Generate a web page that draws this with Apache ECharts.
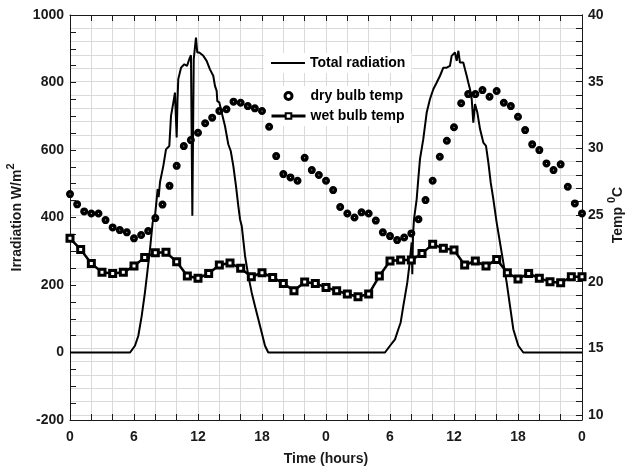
<!DOCTYPE html>
<html>
<head>
<meta charset="utf-8">
<script src="https://cdn.jsdelivr.net/npm/echarts@6/dist/echarts.min.js"></script>
<style>html,body{margin:0;padding:0;background:#fff}#c{width:628px;height:467px}</style>
</head>
<body>
<div id="c"></div>
<script>
// ---- data (hours, W/m2, degC) ----
const radTime = [0, 5.63, 6.09, 6.40, 6.72, 7.03, 7.25, 7.50, 7.75, 7.97, 8.22, 8.31, 8.44, 8.75, 9.00, 9.31, 9.47, 9.69, 9.84, 10.00, 10.08, 10.15, 10.41, 10.72, 10.97, 11.18, 11.34, 11.47, 11.60, 11.81, 11.93, 12.12, 12.50, 12.81, 13.12, 13.43, 13.59, 13.75, 13.81, 14.00, 14.22, 14.53, 14.84, 15.07, 15.31, 15.56, 15.78, 15.94, 16.10, 16.41, 16.72, 17.03, 17.34, 17.65, 17.97, 18.28, 18.59,
  29.53, 30.00, 30.47, 30.78, 31.00, 31.25, 31.41, 31.62, 31.81, 32.03, 32.09, 32.16, 32.25, 32.50, 32.65, 32.81, 33.12, 33.44, 33.75, 34.06, 34.38, 34.69, 35.00, 35.31, 35.62, 35.78, 35.94, 36.09, 36.25, 36.41, 36.56, 36.72, 36.87, 37.03, 37.19, 37.34, 37.50, 37.66, 37.81, 37.97, 38.19, 38.44, 38.75, 39.00, 39.22, 39.44, 39.69, 40.00, 40.31, 40.62, 40.94, 41.25, 41.56, 42.03, 42.50, 48];
const radValue = [0, 0, 20, 49, 108, 179, 238, 306, 386, 405, 484, 460, 505, 553, 602, 612, 701, 741, 770, 637, 750, 810, 844, 854, 849, 869, 881, 405, 869, 933, 889, 889, 879, 864, 839, 820, 790, 775, 745, 741, 711, 671, 617, 597, 553, 494, 434, 395, 375, 286, 227, 178, 138, 99, 59, 20, 0,
  0, 20, 39, 69, 89, 138, 168, 207, 257, 326, 232, 350, 395, 454, 513, 573, 632, 711, 751, 780, 800, 820, 844, 844, 849, 879, 884, 889, 864, 894, 859, 864, 859, 839, 820, 800, 780, 751, 681, 736, 711, 662, 622, 612, 563, 504, 454, 385, 326, 267, 207, 138, 69, 20, 0, 0];

const dryTime = [0, 0.67, 1.33, 2, 2.67, 3.33, 4, 4.67, 5.33, 6, 6.67, 7.33, 8, 8.67, 9.33, 10, 10.67, 11.33, 12, 12.67, 13.33, 14, 14.67, 15.33, 16, 16.67, 17.33, 18, 18.67, 19.33, 20, 20.67, 21.33, 22, 22.67, 23.33, 24, 24.67, 25.33, 26, 26.67, 27.33, 28, 28.67, 29.33, 30, 30.67, 31.33, 32, 32.67, 33.33, 34, 34.67, 35.33, 36, 36.67, 37.33, 38, 38.67, 39.33, 40, 40.67, 41.33, 42, 42.67, 43.33, 44, 44.67, 45.33, 46, 46.67, 47.33, 48];
const dryTemp = [26.57, 25.8, 25.27, 25.11, 25.11, 24.62, 24.07, 23.87, 23.7, 23.25, 23.5, 23.8, 24.77, 25.78, 27.19, 28.69, 30.17, 30.62, 31.17, 31.88, 32.3, 32.8, 32.93, 33.5, 33.42, 33.17, 33.0, 32.8, 31.62, 29.42, 28.07, 27.82, 27.57, 29.29, 28.37, 28.0, 27.57, 26.87, 25.6, 25.11, 24.81, 25.2, 25.11, 24.58, 23.7, 23.42, 23.12, 23.31, 23.62, 24.68, 26.12, 27.57, 29.37, 30.57, 31.58, 33.38, 34.07, 34.07, 34.37, 33.87, 34.3, 33.42, 33.17, 32.37, 31.37, 30.3, 29.87, 28.87, 28.37, 28.8, 27.12, 25.87, 25.12];

const wetTime = [0, 1, 2, 3, 4, 5, 6, 7, 8, 9, 10, 11, 12, 13, 14, 15, 16, 17, 18, 19, 20, 21, 22, 23, 24, 25, 26, 27, 28, 29, 30, 31, 32, 33, 34, 35, 36, 37, 38, 39, 40, 41, 42, 43, 44, 45, 46, 47, 48];
const wetTemp = [23.25, 22.42, 21.37, 20.70, 20.62, 20.70, 21.17, 21.82, 22.17, 22.2, 21.49, 20.42, 20.25, 20.62, 21.25, 21.4, 21.0, 20.37, 20.67, 20.32, 19.87, 19.32, 19.97, 19.87, 19.57, 19.32, 19.07, 18.87, 19.07, 20.42, 21.55, 21.62, 21.62, 22.12, 22.8, 22.5, 22.37, 21.25, 21.55, 21.17, 21.67, 20.67, 20.2, 20.62, 20.25, 20.0, 19.92, 20.37, 20.37];

const seriesNames = ['Total radiation', 'dry bulb temp', 'wet bulb temp'];

const zip = (a, b) => a.map((t, i) => [t, b[i]]);
const INK = '#1a1a1a';
const GRIDC = '#dadada';
const FONT = '"Liberation Sans", Arial, sans-serif';
const lbl = () => ({ color: INK, fontFamily: FONT, fontWeight: 'bold', fontSize: 14 });
const tick = () => ({ show: true, inside: true, length: 6, lineStyle: { color: INK, width: 1 } });
const axLine = () => ({ show: true, onZero: false, lineStyle: { color: INK, width: 1 } });
const gl = () => ({ show: true, lineStyle: { color: GRIDC, width: 1 } });
const near = (v, m) => Math.abs(v / m - Math.round(v / m)) < 1e-6;
const richName = () => ({ rich: {
  a: { fontFamily: FONT, fontWeight: 'bold', fontSize: 14, color: INK, padding: [5, 0, 0, 0] },
  s: { fontFamily: FONT, fontWeight: 'bold', fontSize: 11, color: INK, verticalAlign: 'top' } } });
const legText = () => ({ color: '#000', fontFamily: FONT, fontWeight: 'bold', fontSize: 14 });
const hideSym = { color: 'rgba(0,0,0,0)', borderColor: 'rgba(0,0,0,0)', borderWidth: 0 };

const chart = echarts.init(document.getElementById('c'));
chart.setOption({
  animation: false,
  backgroundColor: '#fff',
  grid: [
    { left: 70, right: 46, top: 15, bottom: 47, containLabel: false, outerBoundsMode: 'none' },
    { left: 70, right: 46, top: 15, bottom: 52, containLabel: false, outerBoundsMode: 'none' }
  ],
  xAxis: [
    { gridIndex: 0, type: 'value', min: 0, max: 48, interval: 2, position: 'bottom',
      axisLine: axLine(), axisTick: tick(),
      axisLabel: Object.assign({ margin: 10, formatter: v => near(v, 6) ? String(Math.round(v) % 24) : '' }, lbl()),
      splitLine: gl(),
      name: 'Time (hours)', nameLocation: 'middle', nameGap: 32, nameMoveOverlap: false, nameTextStyle: lbl() },
    { gridIndex: 0, type: 'value', min: 0, max: 48, interval: 2, position: 'top',
      axisLine: axLine(), axisTick: tick(), axisLabel: { show: false }, splitLine: { show: false } },
    { gridIndex: 1, type: 'value', min: 0, max: 48, show: false }
  ],
  yAxis: [
    { gridIndex: 0, type: 'value', min: -200, max: 1000, interval: 50, position: 'left',
      axisLine: axLine(), axisTick: tick(),
      axisLabel: Object.assign({ margin: 6, formatter: v => near(v, 200) ? String(Math.round(v)) : '' }, lbl()),
      splitLine: { show: false },
      name: '{a|Irradiation W/m}{s|2}', nameLocation: 'middle', nameRotate: 90, nameGap: 46, nameMoveOverlap: false,
      nameTextStyle: richName() },
    { gridIndex: 1, type: 'value', min: 10, max: 40, interval: 1, position: 'right',
      axisLine: axLine(), axisTick: tick(),
      axisLabel: Object.assign({ margin: 6, formatter: v => near(v, 5) ? String(Math.round(v)) : '' }, lbl()),
      splitLine: gl(),
      name: '{a|Temp }{s|0}{a|C}', nameLocation: 'middle', nameRotate: 90, nameGap: 24, nameMoveOverlap: false,
      nameTextStyle: richName() },
    { gridIndex: 0, type: 'value', min: -200, max: 1000, position: 'right',
      axisLine: axLine(), axisTick: { show: false }, axisLabel: { show: false }, splitLine: { show: false } }
  ],
  legend: [
    { data: [{ name: seriesNames[0], itemStyle: hideSym }], orient: 'vertical', left: 264, top: 53, padding: [3, 6, 3, 6],
      backgroundColor: '#fff', itemWidth: 34, itemHeight: 7, itemGap: 5,
      lineStyle: { width: 2 }, textStyle: legText() },
    { data: [{ name: seriesNames[1], itemStyle: { color: '#fff', borderColor: '#000', borderWidth: 3 } }, seriesNames[2]],
      orient: 'vertical', left: 264, top: 86, padding: [3, 6, 3, 6],
      backgroundColor: '#fff', itemWidth: 34, itemHeight: 7, itemGap: 6,
      lineStyle: { width: 3 }, textStyle: legText() }
  ],
  series: [
    { name: seriesNames[0], type: 'line', xAxisIndex: 0, yAxisIndex: 0, data: zip(radTime, radValue),
      symbol: 'none', showSymbol: false, lineStyle: { color: '#000', width: 2 }, itemStyle: { color: '#000' }, z: 3 },
    { name: seriesNames[1], type: 'scatter', xAxisIndex: 2, yAxisIndex: 1, data: zip(dryTime, dryTemp),
      symbol: 'circle', symbolSize: 4.5, itemStyle: { color: '#fff', borderColor: '#000', borderWidth: 3.5, opacity: 1 }, z: 4 },
    { name: seriesNames[2], type: 'line', xAxisIndex: 2, yAxisIndex: 1, data: zip(wetTime, wetTemp),
      symbol: 'rect', symbolSize: 6, showSymbol: true,
      lineStyle: { color: '#000', width: 2.5 }, itemStyle: { color: '#fff', borderColor: '#000', borderWidth: 3 }, z: 4 }
  ]
});
</script>
</body>
</html>
